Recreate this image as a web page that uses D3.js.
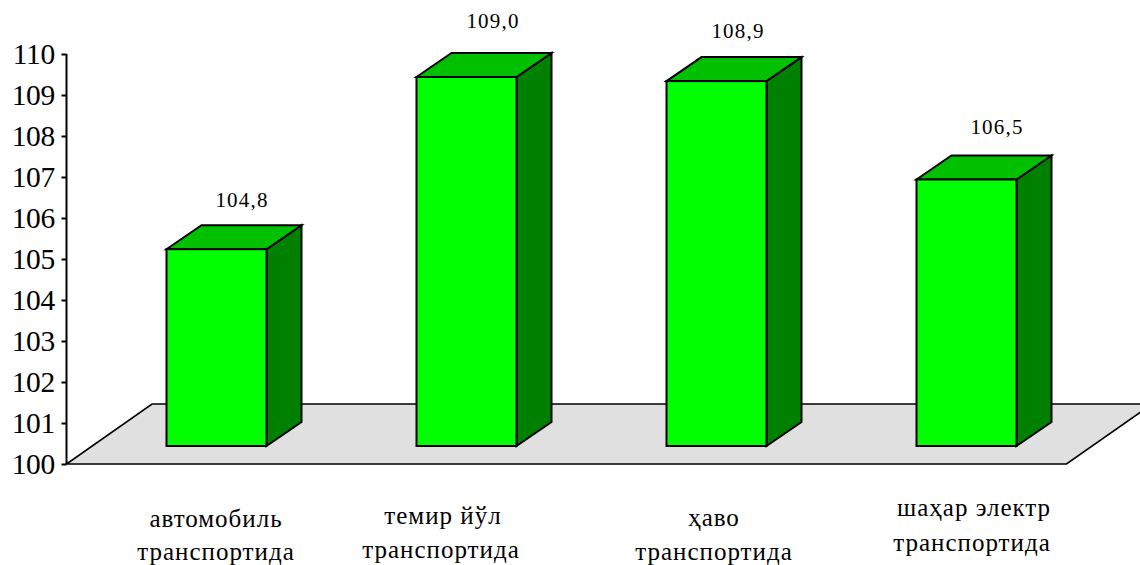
<!DOCTYPE html>
<html><head><meta charset="utf-8">
<script src="https://cdn.jsdelivr.net/npm/d3@7/dist/d3.min.js"></script>
<style>html,body{margin:0;background:#fff}svg{display:block}text{font-family:"Liberation Serif",serif;fill:#000}</style>
</head><body><svg id="c" width="1140" height="565"></svg>
<script>
const categories = [["автомобиль","транспортида"],["темир йўл","транспортида"],["ҳаво","транспортида"],["шаҳар электр","транспортида"]];
const values = [104.8, 109.0, 108.9, 106.5];
const valueLabels = ["104,8","109,0","108,9","106,5"];
const yTicks = [100,101,102,103,104,105,106,107,108,109,110];

const svg=d3.select("#c");
const y=d3.scaleLinear().domain([100,110]).range([464,54]);
const x=d3.scaleBand().domain(d3.range(categories.length)).range([66.5,1066.5]).paddingInner(0.6).paddingOuter(0.3);
const floorD={x:85.5,y:-60}, front={x:25,y:-18}, depth={x:35,y:-24};
const line=d3.line();

// floor
svg.append("path")
  .attr("d",line([[x.range()[0],y(100)],[x.range()[1],y(100)],[x.range()[1]+floorD.x,y(100)+floorD.y],[x.range()[0]+floorD.x,y(100)+floorD.y]])+"Z")
  .attr("fill","#e0e0e0").attr("stroke","#000").attr("stroke-width",1.6);

// bars
const bars=svg.append("g").selectAll("g").data(values).join("g");
bars.each(function(v,i){
  const g=d3.select(this);
  const x0=x(i)+front.x,x1=x0+x.bandwidth(),yt=y(v)+front.y,yb=y(100)+front.y;
  const st=s=>s.attr("stroke","#000").attr("stroke-width",2).attr("stroke-linejoin","miter");
  st(g.append("path").attr("d",line([[x1,yb],[x1+depth.x,yb+depth.y],[x1+depth.x,yt+depth.y],[x1,yt]])+"Z").attr("fill","#008000"));
  st(g.append("path").attr("d",line([[x0,yt],[x0+depth.x,yt+depth.y],[x1+depth.x,yt+depth.y],[x1,yt]])+"Z").attr("fill","#00c000"));
  st(g.append("rect").attr("x",x0).attr("y",yt).attr("width",x.bandwidth()).attr("height",yb-yt).attr("fill","#00ff00"));
});

// axis
const ax=svg.append("g").attr("transform","translate(66.5,0)")
  .call(d3.axisLeft(y).tickValues(yTicks).tickSize(5).tickPadding(6.5).tickFormat(d3.format("d")));
ax.selectAll("path,line").attr("stroke","#000").attr("stroke-width",2);
ax.select(".domain").attr("d",`M0,${y(110)}V${y(100)}`);
ax.selectAll("text").attr("font-family","Liberation Serif").attr("font-size",29.5).attr("letter-spacing",-0.3).attr("fill","#000");

// value labels
const valueLabelDx=[0.5,1.5,-3.5,5.5], valueLabelDy=[4,-3,3,0];
svg.append("g").selectAll("text").data(valueLabels).join("text")
  .attr("x",(d,i)=>x(i)+front.x+x.bandwidth()/2+depth.x-10+valueLabelDx[i])
  .attr("y",(d,i)=>y(values[i])+front.y+depth.y-22+valueLabelDy[i])
  .attr("text-anchor","middle").attr("font-size",21).attr("letter-spacing",1.2).text(d=>d);

// category labels
const labelCx=[216,441,714,972], labelY=[[527,560],[524,558],[526,560],[516,551]], labelDx=[[0,0],[2,0],[0,0],[2,0]];
const cg=svg.append("g");
categories.forEach((lines,i)=>lines.forEach((t,j)=>{
  cg.append("text").attr("x",labelCx[i]+labelDx[i][j]).attr("y",labelY[i][j]).attr("text-anchor","middle").attr("font-size",25).attr("letter-spacing",1).text(t);
}));
</script></body></html>
